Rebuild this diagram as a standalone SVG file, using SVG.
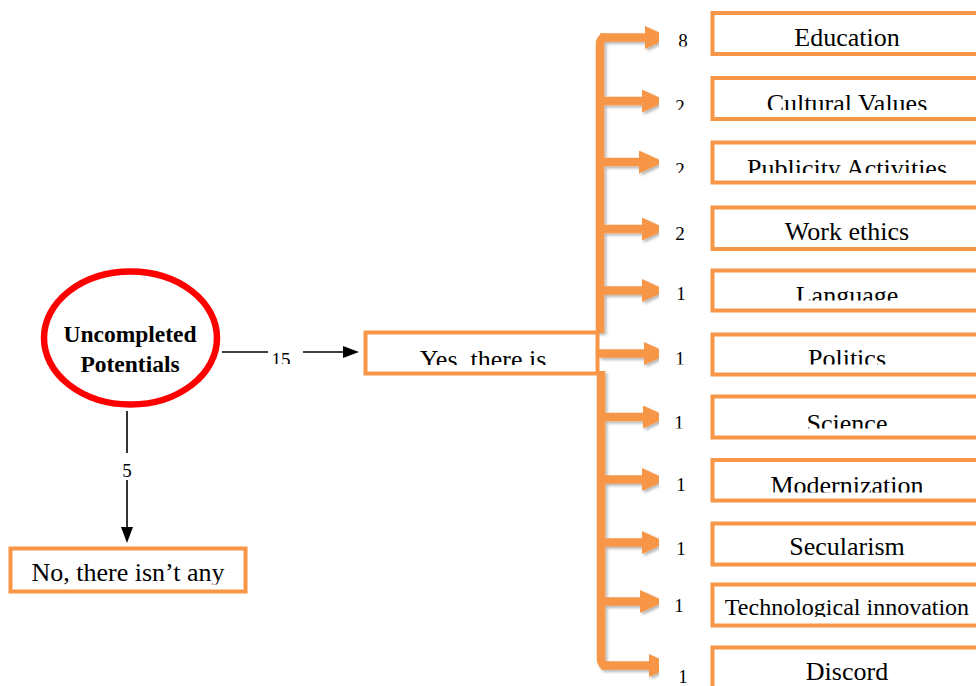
<svg xmlns="http://www.w3.org/2000/svg" width="976" height="686" viewBox="0 0 976 686">
  <style>
    .box { fill: #ffffff; stroke: #F79646; stroke-width: 4; }
    .lbl { font-family: "Liberation Serif", "Times New Roman", serif; font-size: 26px; fill: #000; text-anchor: middle; }
    .num { font-family: "Liberation Serif", "Times New Roman", serif; font-size: 19px; fill: #000; text-anchor: middle; }
    .title { font-family: "Liberation Serif", "Times New Roman", serif; font-size: 23.5px; font-weight: bold; fill: #000; text-anchor: middle; }
    .oline { fill: none; stroke: #F79646; stroke-width: 8.5; marker-end: url(#oarrow); }
    .trunk { fill: none; stroke: #F79646; stroke-width: 8.5; stroke-linejoin: round; }
    .bline { fill: none; stroke: #000; stroke-width: 1.6; }
  </style>
  <defs>
    <marker id="oarrow" markerUnits="userSpaceOnUse" markerWidth="25" markerHeight="23" viewBox="0 0 25 23" refX="0" refY="11.5" orient="auto">
      <path d="M0,0 L25,11.5 L0,23 Z" fill="#F79646"/>
    </marker>
    <marker id="barrow" markerUnits="userSpaceOnUse" markerWidth="16" markerHeight="12" viewBox="0 0 16 12" refX="0" refY="6" orient="auto">
      <path d="M0,0 L16,6 L0,12 Z" fill="#000"/>
    </marker>
    <filter id="shade" x="-10%" y="-10%" width="130%" height="130%">
      <feDropShadow dx="2" dy="2" stdDeviation="1.5" flood-color="#000" flood-opacity="0.3"/>
    </filter>
    <!-- rows: text is cut along a line near the baseline -->
    <clipPath id="c-edu"><rect x="650" y="0" width="330" height="46.5"/></clipPath>
    <clipPath id="c-cul"><rect x="650" y="70" width="330" height="40"/></clipPath>
    <clipPath id="c-pub"><rect x="650" y="135" width="330" height="38"/></clipPath>
    <clipPath id="c-wrk"><rect x="650" y="200" width="330" height="40.5"/></clipPath>
    <clipPath id="c-lng"><rect x="650" y="262" width="330" height="38.5"/></clipPath>
    <clipPath id="c-pol"><rect x="650" y="326" width="330" height="38.5"/></clipPath>
    <clipPath id="c-sci"><rect x="650" y="390" width="330" height="38.5"/></clipPath>
    <clipPath id="c-mod"><rect x="650" y="452" width="330" height="40.5"/></clipPath>
    <clipPath id="c-sec"><rect x="650" y="515" width="330" height="50"/></clipPath>
    <clipPath id="c-tec"><rect x="650" y="577" width="330" height="40"/></clipPath>
    <clipPath id="c-dis"><rect x="650" y="640" width="330" height="50"/></clipPath>
    <clipPath id="c-yes"><rect x="366" y="334" width="231" height="31"/></clipPath>
    <clipPath id="c-no"><rect x="12" y="550" width="232" height="34.5"/></clipPath>
    <clipPath id="c-15"><rect x="260" y="340" width="50" height="24"/></clipPath>
  </defs>

  <!-- connectors -->
  <g id="connectors">
    <g id="orange-branches" filter="url(#shade)">
      <path class="trunk" d="M600,333 V44 Q600,37.5 606,37.5"/>
      <path class="trunk" d="M601,371 V659 Q601,665.5 607,665.5"/>
      <line class="oline" x1="600" y1="37.5" x2="645" y2="37.5"/>
      <line class="oline" x1="600" y1="101" x2="642" y2="101"/>
      <line class="oline" x1="600" y1="162" x2="639" y2="162"/>
      <line class="oline" x1="600" y1="229" x2="642" y2="229"/>
      <line class="oline" x1="600" y1="290.5" x2="642" y2="290.5"/>
      <line class="oline" x1="599" y1="353.5" x2="644" y2="353.5"/>
      <line class="oline" x1="601" y1="417" x2="643" y2="417"/>
      <line class="oline" x1="601" y1="479.5" x2="642" y2="479.5"/>
      <line class="oline" x1="601" y1="542.5" x2="642" y2="542.5"/>
      <line class="oline" x1="601" y1="601.5" x2="640" y2="601.5"/>
      <line class="oline" x1="601" y1="665.5" x2="649" y2="665.5"/>
    </g>
    <g id="black-links">
      <line class="bline" x1="222" y1="352" x2="268" y2="352"/>
      <line class="bline" x1="303" y1="352" x2="343" y2="352" marker-end="url(#barrow)"/>
      <line class="bline" x1="127" y1="411" x2="127" y2="453"/>
      <line class="bline" x1="127" y1="480" x2="127" y2="527" marker-end="url(#barrow)"/>
    </g>
    <g id="counts">
      <text class="num" x="281" y="366" clip-path="url(#c-15)">15</text>
      <text class="num" x="127" y="477">5</text>
      <text class="num" x="683" y="46.5" clip-path="url(#c-edu)">8</text>
      <text class="num" x="680" y="113" clip-path="url(#c-cul)">2</text>
      <text class="num" x="680" y="176" clip-path="url(#c-pub)">2</text>
      <text class="num" x="680" y="240" clip-path="url(#c-wrk)">2</text>
      <text class="num" x="681" y="300" clip-path="url(#c-lng)">1</text>
      <text class="num" x="680" y="365" clip-path="url(#c-pol)">1</text>
      <text class="num" x="679" y="429" clip-path="url(#c-sci)">1</text>
      <text class="num" x="681" y="491" clip-path="url(#c-mod)">1</text>
      <text class="num" x="681" y="555" clip-path="url(#c-sec)">1</text>
      <text class="num" x="679" y="612" clip-path="url(#c-tec)">1</text>
      <text class="num" x="683" y="683">1</text>
    </g>
  </g>

  <!-- root node -->
  <g id="node-root">
    <ellipse cx="130.5" cy="338" rx="86.5" ry="66.5" fill="#fff" stroke="#FF0000" stroke-width="6.5"/>
    <text class="title" x="130" y="342">Uncompleted</text>
    <text class="title" x="130" y="372">Potentials</text>
  </g>

  <g id="node-yes">
    <rect class="box" x="365.5" y="332.5" width="232" height="41" stroke-width="3.5"/>
    <text class="lbl" x="483" y="368" clip-path="url(#c-yes)">Yes, there is</text>
  </g>

  <g id="node-no">
    <rect class="box" x="10.5" y="548.5" width="235" height="43" stroke-width="3.5"/>
    <text class="lbl" x="128" y="581" clip-path="url(#c-no)">No, there isn’t any</text>
  </g>

  <!-- category boxes -->
  <g id="node-education">
    <rect class="box" x="712.5" y="13" width="300" height="41"/>
    <text class="lbl" x="847" y="46.2" clip-path="url(#c-edu)">Education</text>
  </g>
  <g id="node-cultural-values">
    <rect class="box" x="712.5" y="78" width="300" height="41"/>
    <text class="lbl" x="847" y="112" clip-path="url(#c-cul)">Cultural Values</text>
  </g>
  <g id="node-publicity">
    <rect class="box" x="712.5" y="142.5" width="300" height="40"/>
    <text class="lbl" x="847" y="177" clip-path="url(#c-pub)">Publicity Activities</text>
  </g>
  <g id="node-work-ethics">
    <rect class="box" x="712.5" y="207.5" width="300" height="41.5"/>
    <text class="lbl" x="847" y="240" clip-path="url(#c-wrk)">Work ethics</text>
  </g>
  <g id="node-language">
    <rect class="box" x="712.5" y="270.5" width="300" height="40"/>
    <text class="lbl" x="847" y="304" clip-path="url(#c-lng)">Language</text>
  </g>
  <g id="node-politics">
    <rect class="box" x="712.5" y="334.5" width="300" height="40"/>
    <text class="lbl" x="847" y="367" clip-path="url(#c-pol)">Politics</text>
  </g>
  <g id="node-science">
    <rect class="box" x="712.5" y="396.5" width="300" height="41"/>
    <text class="lbl" x="847" y="432" clip-path="url(#c-sci)">Science</text>
  </g>
  <g id="node-modernization">
    <rect class="box" x="712.5" y="460" width="300" height="40.5"/>
    <text class="lbl" x="847" y="494" clip-path="url(#c-mod)">Modernization</text>
  </g>
  <g id="node-secularism">
    <rect class="box" x="712.5" y="523.5" width="300" height="41"/>
    <text class="lbl" x="847" y="555" clip-path="url(#c-sec)">Secularism</text>
  </g>
  <g id="node-technological-innovation">
    <rect class="box" x="712.5" y="584.5" width="300" height="41"/>
    <text class="lbl" x="847" y="615" style="font-size:24px" clip-path="url(#c-tec)">Technological innovation</text>
  </g>
  <g id="node-discord">
    <rect class="box" x="712.5" y="647.5" width="300" height="60"/>
    <text class="lbl" x="847" y="680">Discord</text>
  </g>
</svg>
